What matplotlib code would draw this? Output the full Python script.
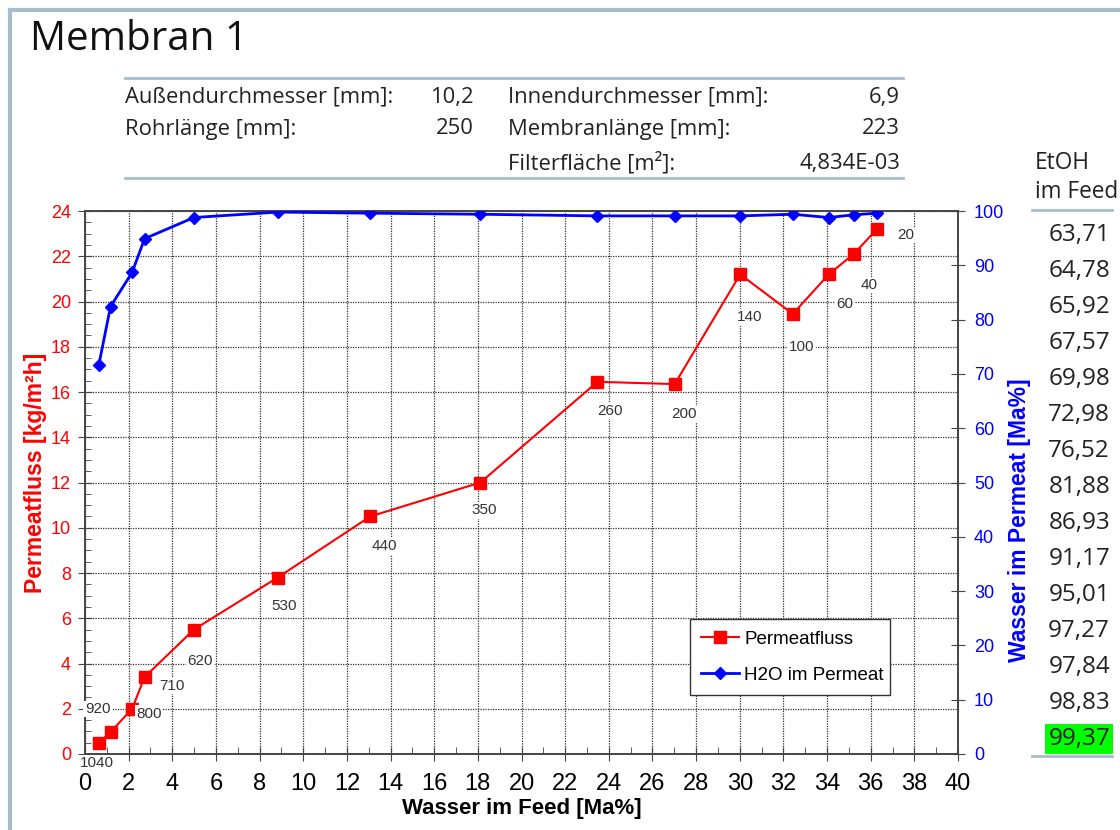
import matplotlib.pyplot as plt
from matplotlib.lines import Line2D
from matplotlib.ticker import MultipleLocator

# Data
water_feed = [0.63, 1.17, 2.16, 2.73, 4.99, 8.83, 13.07, 18.12, 23.48, 27.02,
              30.02, 32.43, 34.08, 35.22, 36.29]
permeate_flux = [0.49, 0.97, 2.0, 3.4, 5.5, 7.8, 10.5, 12.0, 16.45, 16.35,
                 21.2, 19.45, 21.2, 22.1, 23.2]
water_permeate = [71.6, 82.4, 88.7, 94.9, 98.8, 99.8, 99.6, 99.4, 99.1, 99.1,
                  99.1, 99.4, 98.8, 99.3, 99.6]
point_labels = ['1040', '920', '800', '710', '620', '530', '440', '350', '260',
                '200', '140', '100', '60', '40', '20']
etoh_feed = ['63,71', '64,78', '65,92', '67,57', '69,98', '72,98', '76,52',
             '81,88', '86,93', '91,17', '95,01', '97,27', '97,84', '98,83', '99,37']

# label offsets in pixels (dx, dy)
label_offsets = [(-2, -20), (-13, 23), (17, -5), (27, -9), (6, -31), (6, -28),
                 (14, -30), (4, -28), (13, -29), (9, -30), (9, -43), (9, -33),
                 (16, -30), (15, -31), (29, -6)]

specs_left = [('Außendurchmesser [mm]:', '10,2'), ('Rohrlänge [mm]:', '250')]
specs_right = [('Innendurchmesser [mm]:', '6,9'), ('Membranlänge [mm]:', '223'),
               ('Filterfläche [m²]:', '4,834E-03')]

W, H = 1120, 830
fig = plt.figure(figsize=(W / 100, H / 100), dpi=100)
plt.rcParams['font.family'] = ['Liberation Sans', 'DejaVu Sans']
ui_font = ['Open Sans', 'DejaVu Sans']
frame_col = '#a9bccb'
txt_col = '#222222'


def px(x, y):
    return x / W, 1 - y / H


# outer frame
fig.add_artist(Line2D([10 / W, 1], [1 - 10 / H] * 2, color=frame_col, lw=3))
fig.add_artist(Line2D([10 / W] * 2, [0, 1 - 10 / H], color=frame_col, lw=3))

fig.text(*px(30, 40), 'Membran 1', fontsize=29, family=ui_font, va='center', color='#111111')

# spec table
for yy in (78, 178):
    fig.add_artist(Line2D([125 / W, 903 / W], [1 - yy / H] * 2, color=frame_col, lw=2))
rows_y = [97, 129, 163]
for i, (name, val) in enumerate(specs_left):
    fig.text(*px(125, rows_y[i]), name, fontsize=15.8, family=ui_font, va='center', color=txt_col)
    fig.text(*px(474, rows_y[i]), val, fontsize=15.8, family=ui_font, va='center', ha='right', color=txt_col)
for i, (name, val) in enumerate(specs_right):
    fig.text(*px(508, rows_y[i]), name, fontsize=15.8, family=ui_font, va='center', color=txt_col)
    fig.text(*px(900, rows_y[i]), val, fontsize=15.8, family=ui_font, va='center', ha='right', color=txt_col)

# EtOH column
fig.text(*px(1035, 163), 'EtOH', fontsize=16.3, family=ui_font, va='center', color=txt_col)
fig.text(*px(1035, 192), 'im Feed', fontsize=16.3, family=ui_font, va='center', color=txt_col)
fig.add_artist(Line2D([1032 / W, 1112 / W], [1 - 210 / H] * 2, color=frame_col, lw=2))
fig.add_artist(Line2D([1032 / W, 1112 / W], [1 - 756 / H] * 2, color=frame_col, lw=2))
for i, v in enumerate(etoh_feed):
    yy = 235 + i * 36
    kw = {}
    if i == len(etoh_feed) - 1:
        kw['bbox'] = dict(facecolor='#00ff00', edgecolor='none', pad=2.5)
    fig.text(*px(1110, yy), v, fontsize=17.5, family=ui_font, va='center', ha='right',
             color=txt_col, zorder=5, **kw)

# chart
ax = fig.add_axes([85 / W, 1 - 754 / H, 873 / W, 543 / H])
ax2 = ax.twinx()

l1, = ax.plot(water_feed, permeate_flux, 's-', color='red', lw=1.5, ms=8,
              label='Permeatfluss', zorder=4)
l2, = ax2.plot(water_feed, water_permeate, 'D-', color='blue', lw=2, ms=6,
               label='H2O im Permeat', zorder=4)

ax.set_xlim(0, 40)
ax.set_ylim(0, 24)
ax2.set_ylim(0, 100)
ax.xaxis.set_major_locator(MultipleLocator(2))
ax.xaxis.set_minor_locator(MultipleLocator(1))
ax.yaxis.set_major_locator(MultipleLocator(2))
ax.yaxis.set_minor_locator(MultipleLocator(0.5))
ax2.yaxis.set_major_locator(MultipleLocator(10))

ax.grid(True, which='major', color='#333333', linestyle=(0, (1, 1)), lw=0.9)
ax.set_axisbelow(True)

spine_col = '#444444'
for a in (ax, ax2):
    for s in a.spines.values():
        s.set_color(spine_col)
        s.set_linewidth(1.2)

ax.tick_params(axis='x', which='major', direction='inout', length=10, color=spine_col,
               labelsize=17, pad=9)
ax.tick_params(axis='x', which='minor', direction='in', length=5, color=spine_col)
ax.tick_params(axis='y', which='major', direction='inout', length=10, color=spine_col,
               labelsize=13, labelcolor='red', pad=5)
ax.tick_params(axis='y', which='minor', direction='in', length=4, color=spine_col)
ax2.tick_params(axis='y', which='major', direction='inout', length=10, color=spine_col,
                labelsize=13, labelcolor='blue', pad=6.5)

ax.set_xlabel('Wasser im Feed [Ma%]', fontsize=16, fontweight='bold', labelpad=2)
ax.set_ylabel('Permeatfluss [kg/m²h]', fontsize=16.5, fontweight='bold', color='red')
ax.yaxis.set_label_coords(-0.0435, 0.517)
ax2.set_ylabel('Wasser im Permeat [Ma%]', fontsize=16.5, fontweight='bold', color='blue')
ax2.yaxis.set_label_coords(1.057, 0.431)

for x, y, lab, (dx, dy) in zip(water_feed, permeate_flux, point_labels, label_offsets):
    ax2.annotate(lab, xy=(x, y * 100 / 24), xytext=(dx, dy), textcoords='offset pixels',
                 ha='center', va='center', fontsize=11, color='#333333',
                 bbox=dict(facecolor='white', edgecolor='none', pad=1.0),
                 annotation_clip=False, zorder=3)

ax2.legend(handles=[l1, l2], loc='lower left', bbox_to_anchor=(0.693, 0.109, 0.229, 0.132),
           mode='expand', fontsize=13.5, frameon=True, fancybox=False, edgecolor='#333333',
           framealpha=1, borderaxespad=0, handlelength=2.0, handletextpad=0.3,
           labelspacing=1.0, borderpad=0.6)

fig.savefig('out.png', dpi=100)
